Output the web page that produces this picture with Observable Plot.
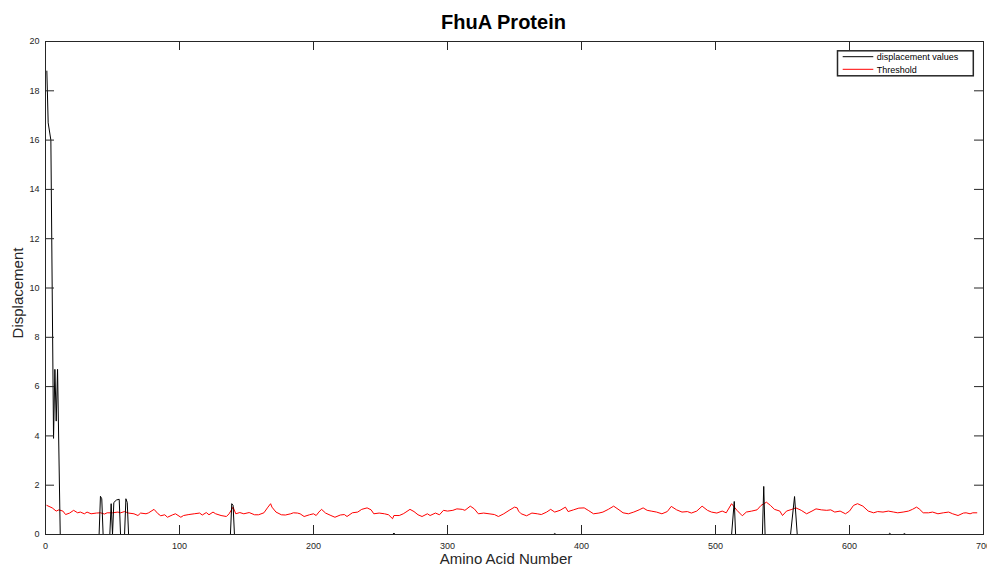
<!DOCTYPE html>
<html>
<head>
<meta charset="utf-8">
<script src="https://cdn.jsdelivr.net/npm/d3@7"></script>
<script src="https://cdn.jsdelivr.net/npm/@observablehq/plot@0.6"></script>
<style>
  body { margin: 0; background: #fff; }
  #chart { width: 987px; height: 565px; }
  #chart svg { font-family: "Liberation Sans", Arial, Helvetica, sans-serif; }
</style>
</head>
<body>
<div id="chart"></div>
<script>
// Displacement per residue: [amino acid number, displacement]
const displacement = [
  [1, 18.8], [2, 16.7], [4, 16.0], [6, 3.9], [7, 6.7], [8, 4.6], [9, 6.7], [11, 0],
  [40, 0], [41, 1.55], [42, 1.45], [43, 0],
  [48, 0], [49, 1.25], [50, 0], [51, 1.3], [53, 1.4], [55, 1.43], [56, 0],
  [59, 0], [60, 1.45], [61, 1.3], [62, 0],
  [138, 0], [139, 1.25], [140, 1.18], [141, 0],
  [259, 0], [260, 0.06], [261, 0],
  [379, 0], [380, 0.04], [381, 0],
  [512, 0], [514, 1.34], [515, 0],
  [535, 0], [536, 1.95], [537, 0],
  [556, 0], [559, 1.54], [561, 0],
  [629, 0], [630, 0.05], [631, 0],
  [640, 0], [641, 0.04], [642, 0],
  [696, 0]
];

// Threshold per residue: [amino acid number, threshold]
const threshold = [
  [1,1.18],[5,1.08],[8,0.95],[10,1.00],[13,0.95],[15,0.81],[18,0.87],[21,0.98],[24,0.88],[26,0.91],
  [29,0.84],[31,0.91],[34,0.84],[38,0.87],[41,0.88],[44,0.83],[46,0.88],[50,0.88],[54,0.91],[56,0.88],
  [59,0.93],[62,0.87],[66,0.84],[69,0.77],[71,0.87],[75,0.84],[77,0.88],[81,1.02],[84,0.84],[86,0.76],
  [89,0.80],[91,0.70],[95,0.80],[97,0.84],[101,0.70],[103,0.77],[107,0.81],[111,0.84],[115,0.87],[117,0.79],
  [120,0.89],[122,0.80],[125,0.91],[127,0.84],[131,0.77],[135,0.73],[137,0.84],[140,1.11],[142,0.84],[145,0.89],
  [148,0.84],[152,0.89],[156,0.80],[159,0.80],[163,0.88],[166,1.11],[168,1.25],[169,1.11],[172,0.91],[176,0.80],
  [179,0.79],[183,0.84],[185,0.88],[188,0.87],[190,0.84],[193,0.73],[197,0.80],[200,0.84],[202,0.77],[204,0.91],
  [206,1.02],[209,0.87],[213,0.77],[216,0.70],[220,0.79],[223,0.81],[225,0.73],[229,0.88],[233,0.91],[236,1.02],
  [240,1.08],[243,1.00],[245,0.84],[249,0.87],[253,0.84],[256,0.80],[259,0.64],[260,0.77],[264,0.77],[267,0.84],
  [269,0.91],[272,1.02],[275,0.93],[278,0.80],[281,0.73],[285,0.84],[287,0.77],[291,0.87],[294,0.80],[297,0.98],
  [300,0.95],[304,0.98],[307,1.04],[311,1.02],[313,0.98],[317,1.15],[320,1.04],[323,0.84],[327,0.87],[331,0.84],
  [335,0.81],[338,0.73],[342,0.84],[346,0.98],[350,1.11],[352,1.08],
  [353,0.95],[355,0.84],[359,0.76],[363,0.87],[367,0.84],[370,0.81],[374,0.91],[377,1.02],[380,0.91],[384,0.98],
  [388,1.11],[390,0.93],[394,1.00],[398,1.07],[402,1.08],[405,0.98],[409,0.84],[413,0.87],[416,0.91],[420,1.02],
  [424,1.15],[428,1.00],[431,0.88],[435,0.84],[439,0.91],[443,1.00],[446,1.08],[449,0.98],[452,0.95],[456,0.91],
  [460,0.84],[464,0.93],[467,1.14],[471,1.00],[475,0.91],[479,0.93],[482,0.87],[486,0.95],[490,1.15],[494,0.98],
  [497,0.91],[501,0.87],[505,0.95],[508,0.88],[512,1.25],[516,0.98],[518,0.87],[520,0.76],[523,0.91],[527,0.95],
  [531,1.00],[534,1.18],[538,1.31],[541,1.18],[544,1.02],[548,0.95],[550,0.77],[553,0.95],[557,1.02],[560,1.08],
  [564,0.98],[568,0.84],[572,0.95],[575,1.04],[579,1.00],[583,0.98],[586,1.00],[589,0.91],[593,0.95],[597,0.84],
  [600,0.95],[603,1.18],[606,1.25],[610,1.15],[614,0.95],[618,0.88],[621,0.93],[625,0.91],[629,0.95],[633,0.91],
  [636,0.88],[640,0.91],[644,0.95],[647,1.02],[650,1.11],[652,1.04],[655,0.88],[659,0.88],[662,0.91],[666,0.84],
  [670,0.88],[674,0.91],[677,0.84],[681,0.77],[685,0.87],[687,0.88],[690,0.84],[692,0.88],[695,0.88]
];

const xTicks = [0, 100, 200, 300, 400, 500, 600, 700];
const yTicks = [0, 2, 4, 6, 8, 10, 12, 14, 16, 18, 20];

const titleText = "FhuA Protein";
const xLabel = "Amino Acid Number";
const yLabel = "Displacement";
const seriesNames = ["displacement values", "Threshold"];
const seriesColors = ["#000000", "#ff0000"];

const W = 987, H = 565;
const M = {top: 41, right: 4, bottom: 31, left: 45};
const frameW = W - M.left - M.right;
const frameH = H - M.top - M.bottom;
const tickLen = 9;
const axisColor = "#262626";

const plot = Plot.plot({
  width: W,
  height: H,
  marginTop: M.top,
  marginRight: M.right,
  marginBottom: M.bottom,
  marginLeft: M.left,
  style: {background: "#fff", color: axisColor},
  x: {domain: [0, 700]},
  y: {domain: [0, 20]},
  marks: [
    Plot.line(threshold, {x: d => d[0], y: d => d[1], stroke: seriesColors[1], strokeWidth: 1}),
    Plot.line(displacement, {x: d => d[0], y: d => d[1], stroke: seriesColors[0], strokeWidth: 1}),
    // inward ticks on all four sides
    Plot.ruleX(xTicks, {x: d => d, insetTop: frameH - tickLen, stroke: axisColor}),
    Plot.ruleX(xTicks, {x: d => d, insetBottom: frameH - tickLen, stroke: axisColor}),
    Plot.ruleY(yTicks, {y: d => d, insetRight: frameW - tickLen, stroke: axisColor}),
    Plot.ruleY(yTicks, {y: d => d, insetLeft: frameW - tickLen, stroke: axisColor}),
    Plot.axisX(xTicks, {anchor: "bottom", tickSize: 0, tickPadding: 8, fontSize: 9, label: null, fill: axisColor}),
    Plot.axisY(yTicks, {anchor: "left", tickSize: 0, tickPadding: 6, fontSize: 9, label: null, fill: axisColor}),
    Plot.frame({stroke: axisColor, strokeWidth: 1})
  ]
});

document.getElementById("chart").appendChild(plot);

const svg = d3.select(plot);

// title and axis labels
svg.append("text")
  .attr("x", 503.5).attr("y", 28.5)
  .attr("text-anchor", "middle")
  .attr("font-size", 20).attr("font-weight", "bold")
  .attr("fill", "#000")
  .text(titleText);

svg.append("text")
  .attr("x", 506).attr("y", 564)
  .attr("text-anchor", "middle")
  .attr("font-size", 15)
  .attr("fill", axisColor)
  .text(xLabel);

svg.append("text")
  .attr("transform", "translate(23,293) rotate(-90)")
  .attr("text-anchor", "middle")
  .attr("font-size", 15)
  .attr("fill", axisColor)
  .text(yLabel);

// legend box in the upper right corner of the axes
const lg = svg.append("g");
lg.append("rect")
  .attr("x", 837.5).attr("y", 50.8)
  .attr("width", 135.8).attr("height", 25)
  .attr("fill", "#fff").attr("stroke", axisColor).attr("stroke-width", 1.5);
seriesNames.forEach((name, i) => {
  const yy = 56.7 + i * 12.6;
  lg.append("line")
    .attr("x1", 842.7).attr("x2", 873.3)
    .attr("y1", yy).attr("y2", yy)
    .attr("stroke", seriesColors[i]).attr("stroke-width", 1);
  lg.append("text")
    .attr("x", 876.7).attr("y", yy + 3.2)
    .attr("text-anchor", "start")
    .attr("font-size", 9)
    .attr("fill", "#000")
    .text(name);
});
</script>
</body>
</html>
